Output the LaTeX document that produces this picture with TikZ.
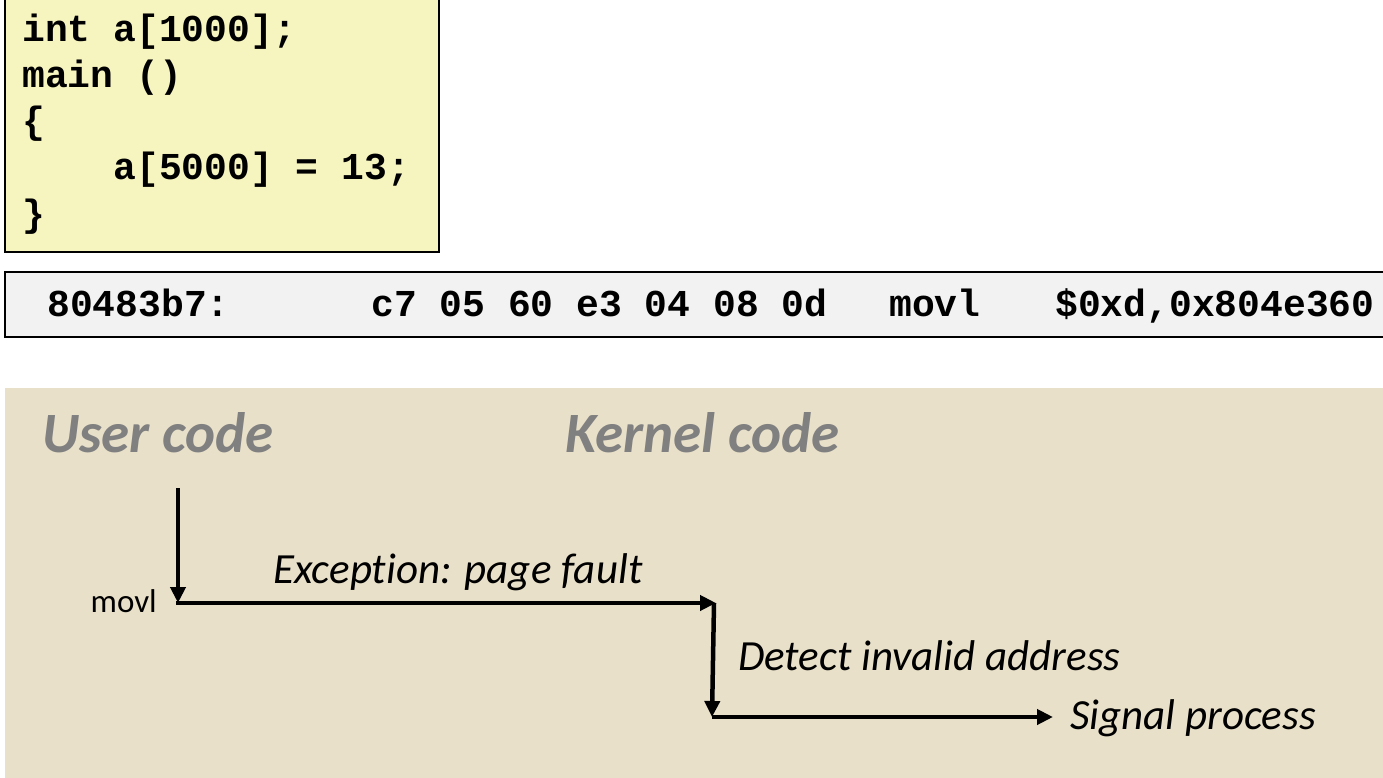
\documentclass[tikz,border=0pt]{standalone}
\usepackage{fontspec}
\setmainfont{Carlito}[Ligatures=NoCommon]
\setmonofont{Liberation Mono}
\usetikzlibrary{positioning,arrows.meta}
\definecolor{codefill}{HTML}{F7F5BF}
\definecolor{barfill}{HTML}{F2F2F2}
\definecolor{panelfill}{HTML}{E8E0C9}
\definecolor{titlegray}{HTML}{808080}
\tikzset{
  codeline/.style={anchor=base west,inner sep=0pt,font=\ttfamily\bfseries\fontsize{38}{46}\selectfont},
  title/.style={anchor=base west,inner sep=0pt,text=titlegray,font=\bfseries\itshape\fontsize{57}{66}\selectfont},
  step label/.style={anchor=base west,inner sep=0pt,font=\itshape\fontsize{43}{50}\selectfont},
  flow/.style={line width=4.5pt,-{Triangle[length=16pt,width=15pt]}}
}
\begin{document}
\begin{tikzpicture}[x=1pt,y=-1pt]
\useasboundingbox (0,0) rectangle (1383,778);
% source code box
\draw [fill=codefill, line width=2pt] (5,-2) rectangle (439,252);
\node[codeline] (l1) at (22,42) {int a[1000];};
\node[codeline] (l2) at (22,88) {main ()};
\node[codeline] (l3) at (22,134) {\{};
\node[codeline] (l4) at (22,180) {\ \ \ \ a[5000] = 13;};
\node[codeline] (l5) at (22,226) {\}};
% disassembly bar
\draw [fill=barfill, line width=2pt] (5,272) rectangle (1390,337);
\node[codeline] (addr) at (47,316) {80483b7:};
\node[codeline] (bytes) at (371,316) {c7 05 60 e3 04 08 0d};
\node[codeline] (op) at (889,316) {movl};
\node[codeline] (args) at (1055,316) {\$0xd,0x804e360};
% control flow panel
\fill [panelfill] (5,388) rectangle (1383,778);
\node[title] (user) at (42,452) {User code};
\node[title] (kernel) at (565,452) {Kernel code};
\coordinate (top) at (178,488);
\coordinate (fault) at (178,603);
\coordinate (kin) at (716,603);
\coordinate (kout) at (714,717);
\coordinate (sig) at (1053,717);
\draw [flow] (top) -- (fault);
\draw [flow] ([xshift=-2pt]fault) -- (kin);
\draw [flow] ([xshift=-2pt]kin) -- ([xshift=-2pt]kout);
\draw [flow] ([xshift=-2pt]kout) -- (sig);
\node[anchor=base east,inner sep=0pt,font=\fontsize{33}{38}\selectfont] (movl) at (157,612) {movl};
\node[step label] (exc) at (273,583) {Exception: page fault};
\node[step label] (detect) at (738,670) {Detect invalid address};
\node[step label] (signal) at (1070,729) {Signal process};
\end{tikzpicture}
\end{document}
